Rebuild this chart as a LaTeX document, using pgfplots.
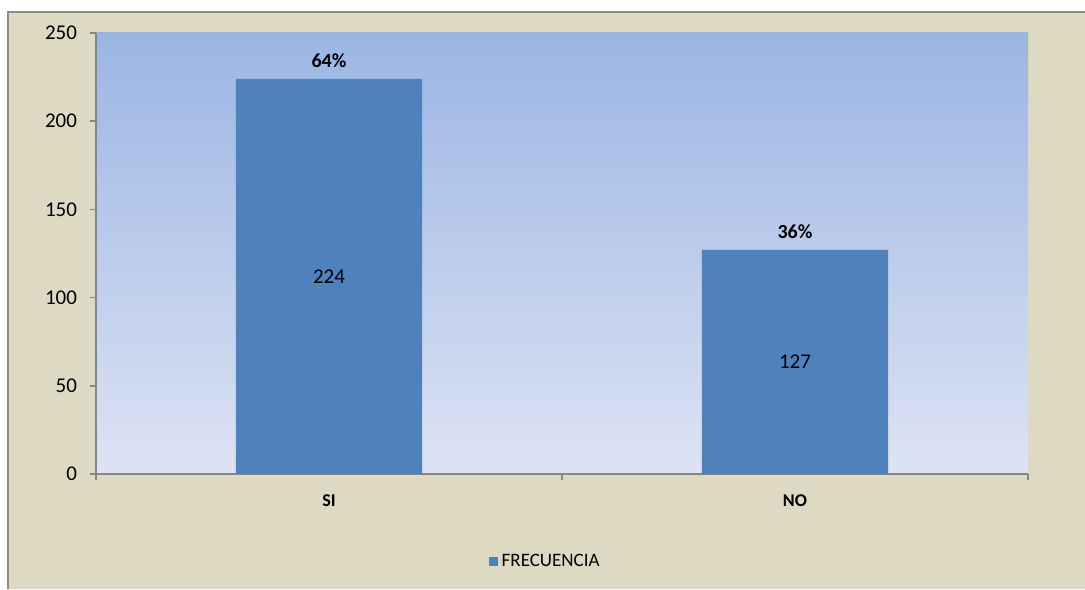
\documentclass[border=0pt]{standalone}
\usepackage{pgfplots}
\pgfplotsset{compat=1.18}
\usepackage{fontspec}
\setmainfont{Carlito}
\definecolor{panel}{HTML}{DDD9C3}
\definecolor{frameline}{HTML}{8C8C8C}
\definecolor{axisgray}{HTML}{868686}
\definecolor{bartop}{HTML}{9BB5E3}
\definecolor{barbottom}{HTML}{DDE3F3}
\definecolor{barblue}{HTML}{4F81BD}
\begin{document}
\begin{tikzpicture}
% page and chart area
\useasboundingbox (0,0) rectangle (542.5pt,294.5pt);
\fill[white] (0,0) rectangle (542.5pt,294.5pt);
\fill[panel] (4pt,0) rectangle (542.5pt,288.5pt);
\draw[frameline, line width=0.8pt] (4pt,0) -- (4pt,288.5pt) -- (542.5pt,288.5pt);
\begin{axis}[
  at={(48pt,57.5pt)}, anchor=south west,
  scale only axis, width=466pt, height=220.5pt,
  ybar, bar width=0.4,
  xmin=-0.5, xmax=1.5, ymin=0, ymax=250,
  axis x line*=bottom, axis y line*=left,
  axis line style={axisgray, line width=0.8pt, -},
  axis background/.style={shade, top color=bartop, bottom color=barbottom},
  xtick={0,1}, xticklabels={\textbf{SI},\textbf{NO}},
  major x tick style={draw=none},
  minor xtick={-0.5,0.5,1.5},
  minor x tick style={axisgray, line width=0.8pt},
  minor tick length=3pt,
  ytick={0,50,100,150,200,250},
  y tick style={axisgray, line width=0.8pt},
  major tick length=3pt,
  tick align=outside,
  x tick label style={font=\fontsize{9}{10}\selectfont, yshift=-4pt},
  y tick label style={font=\fontsize{10.5}{12}\selectfont, xshift=-3pt},
  /pgf/number format/assume math mode=true,
  legend style={at={(0.4830,-0.1995)}, anchor=center, draw=none, fill=none,
    font=\fontsize{9.5}{10}\selectfont},
  legend image code/.code={\fill[barblue] (0pt,-2.25pt) rectangle (4.5pt,2.25pt);},
  clip=false,
]
\addplot[fill=barblue, draw=none] coordinates {(0,224) (1,127)};
\addlegendentry{FRECUENCIA}
\node[font=\fontsize{10.5}{12}\selectfont] at (axis cs:0,112) {224};
\node[font=\fontsize{10.5}{12}\selectfont] at (axis cs:1,63.5) {127};
\node[font=\bfseries\fontsize{10}{12}\selectfont, anchor=south, yshift=2pt] at (axis cs:0,224) {64\%};
\node[font=\bfseries\fontsize{10}{12}\selectfont, anchor=south, yshift=2pt] at (axis cs:1,127) {36\%};
\end{axis}
\end{tikzpicture}
\end{document}
